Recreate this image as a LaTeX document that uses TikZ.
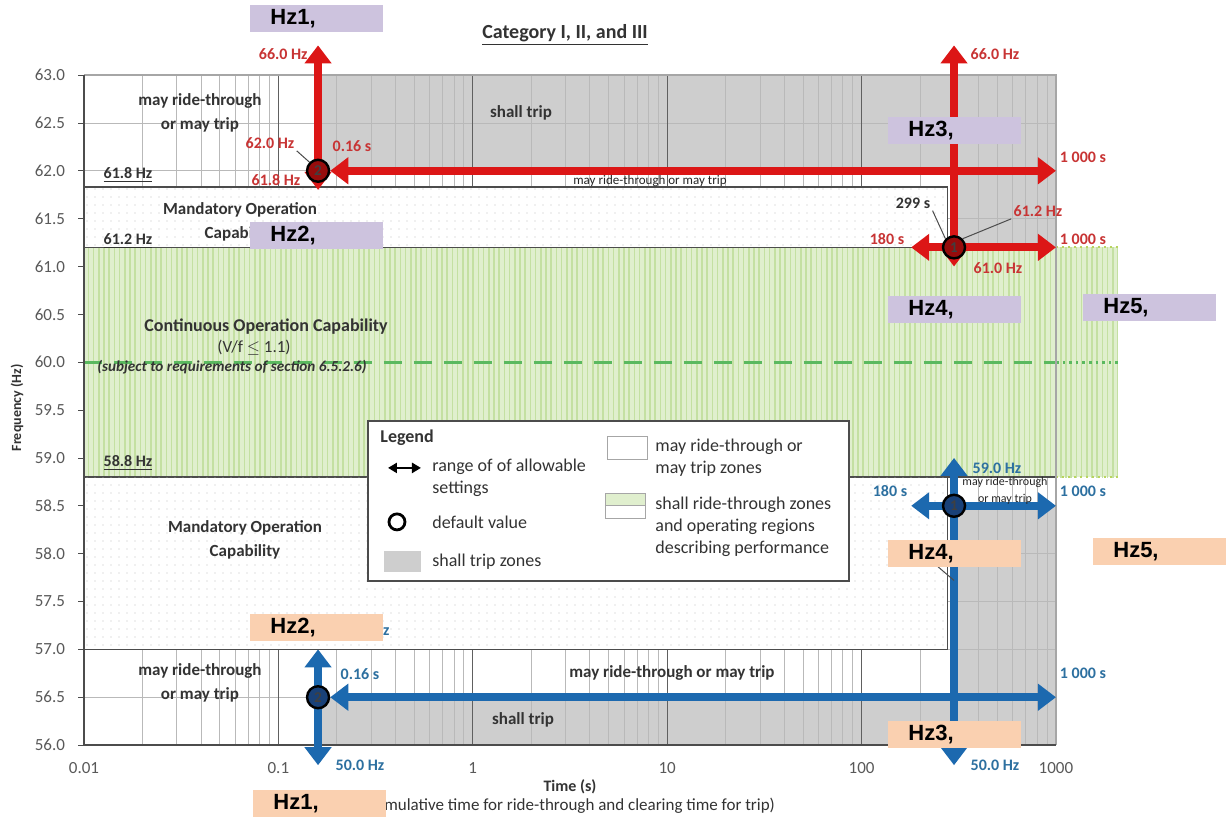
\documentclass[tikz,border=0pt]{standalone}
\usepackage{fontspec}
\setmainfont{Carlito}
\newfontfamily\hzfont{Liberation Sans}
\usepackage{tikz}
\usetikzlibrary{positioning,calc,arrows.meta,patterns.meta}
\definecolor{tripgray}{RGB}{206,206,206}
\definecolor{greenfill}{RGB}{224,239,206}
\definecolor{greenline}{RGB}{196,224,162}
\definecolor{dashgreen}{RGB}{90,185,95}
\definecolor{edgegreen}{RGB}{185,212,95}
\definecolor{redarrow}{RGB}{220,22,22}
\definecolor{redcirc}{RGB}{150,12,12}
\definecolor{redtxt}{RGB}{200,52,52}
\definecolor{bluearrow}{RGB}{28,105,175}
\definecolor{bluecirc}{RGB}{25,65,120}
\definecolor{bluetxt}{RGB}{45,112,160}
\definecolor{hzpurple}{RGB}{205,195,222}
\definecolor{hzpeach}{RGB}{250,208,176}

\begin{document}
\begin{tikzpicture}[x=97.2pt,y=47.86pt,
minor/.style={gray!55,line width=0.4pt},
major/.style={gray!75!black,line width=0.6pt},
zone/.style={font=\fontsize{8.5}{12}\selectfont\bfseries,align=center,text=black!80},
level/.style={font=\fontsize{8}{9}\selectfont\bfseries,text=black!80},
tick/.style={font=\fontsize{8.5}{9}\selectfont,text=gray!70!black},
redlbl/.style={font=\fontsize{8}{9}\selectfont\bfseries,text=redtxt,inner sep=1pt},
bluelbl/.style={font=\fontsize{8}{9}\selectfont\bfseries,text=bluetxt,inner sep=1pt},
leg/.style={font=\fontsize{9}{11}\selectfont,align=left,text=black!80,inner sep=0pt},
redarr/.style={draw=redarrow,line width=4pt,{Triangle[length=9pt,width=13pt]}-{Triangle[length=9pt,width=13pt]}},
bluearr/.style={draw=bluearrow,line width=4pt,{Triangle[length=9pt,width=13pt]}-{Triangle[length=9pt,width=13pt]}},
setpt/.style={circle,minimum size=11pt,inner sep=0pt,draw=black,line width=1.2pt,font=\fontsize{7.5}{8}\selectfont\bfseries,text=black!75},
leader/.style={draw=black!70,line width=0.5pt},
mandbox/.style={fill=white,postaction={pattern color=gray!50,pattern={Dots[radius=0.35pt,distance=4pt]}},draw=gray!60!black,line width=0.6pt},
hzbox/.style={anchor=north west,minimum width=66.5pt,minimum height=13.5pt,inner xsep=10pt,inner ysep=0pt,text width=46.5pt,align=left,font=\hzfont\fontsize{11}{12}\selectfont\bfseries}]

% page
\path[use as bounding box,fill=white] (-2.432,55.216) rectangle (3.885,63.785);

% shall trip zones
\fill[tripgray] (-0.7959,62) rectangle (3,63);
\fill[tripgray] (2.4757,61.2) rectangle (3,62);
\fill[tripgray] (-0.7959,56) rectangle (3,56.5);
\fill[tripgray] (2.4757,56.5) rectangle (3,58.5);

% grid
\foreach \f in {56.5,57.0,57.5,58.0,58.5,59.0,59.5,60.0,60.5,61.0,61.5,62.0,62.5}
  \draw[minor] (-2,\f) -- (3,\f);
\foreach \d in {-2,...,2} {
  \draw[major] (\d,56) -- (\d,63);
  \foreach \k in {2,...,9}
    \draw[minor] ({\d+log10(\k)},56) -- ({\d+log10(\k)},63);
}

% continuous operation
\fill[greenfill] (-2,58.8) rectangle (3.319,61.2);
\path[pattern color=greenline,pattern={Lines[angle=90,distance=2.6pt,line width=0.8pt]}] (-2,58.8) rectangle (3.319,61.2);
\draw[gray!60!black,line width=0.6pt] (-2,61.2) -- (3,61.2);
\draw[gray!60!black,line width=0.6pt] (-2,58.8) -- (3,58.8);
\draw[edgegreen,dotted,line width=1pt] (3,61.2) -- (3.319,61.2);
\draw[edgegreen,dotted,line width=1pt] (3,58.8) -- (3.319,58.8);
\draw[dashgreen,line width=1.7pt,dash pattern=on 9pt off 6pt] (-2,60) -- (3,60);
\draw[dashgreen,dotted,line width=1.3pt] (3,60) -- (3.319,60);

% mandatory operation
\draw[mandbox] (-2,61.2) rectangle (2.44,61.83);
\draw[mandbox] (-2,57) rectangle (2.44,58.8);

% frame and axes
\draw[gray!70,line width=0.8pt] (-2,63) -- (3,63) -- (3,56);
\draw[gray!60!black,line width=0.8pt] (-2,63) -- (-2,56) -- (3,56);
\foreach \f in {56.0,56.5,57.0,57.5,58.0,58.5,59.0,59.5,60.0,60.5,61.0,61.5,62.0,62.5,63.0}
  \draw[gray!60!black] (-2,\f) -- ++(-3pt,0) node[tick,left=3pt] {\f};
\foreach \d/\t in {-2/0.01,-1/0.1,0/1,1/10,2/100,3/1000}
  \node[tick,yshift=-11.5pt] at (\d,56) {\t};

% red settings
\coordinate (r2lo) at (-0.7959,61.8);
\coordinate (r2hi) at (-0.7959,63.31);
\coordinate (r2end) at (3,62);
\coordinate (r1lo) at (2.4757,61.0);
\coordinate (r1hi) at (2.4757,63.31);
\coordinate (r1beg) at (2.2553,61.2);
\coordinate (r1end) at (3,61.2);
\draw[redarr] (r2lo) -- (r2hi);
\node[setpt,fill=redcirc] (r2) at (-0.7959,62) {2};
\draw[redarr] (r2.east) -- (r2end);
\draw[redarr] (r1lo) -- (r1hi);
\draw[redarr] (r1beg) -- (r1end);
\node[setpt,fill=redcirc] (r1) at (2.4757,61.2) {1};

% blue settings
\coordinate (b2hi) at (-0.7959,57.0);
\coordinate (b2lo) at (-0.7959,55.79);
\coordinate (b2end) at (3,56.5);
\coordinate (b1hi) at (2.4757,59.0);
\coordinate (b1lo) at (2.4757,55.79);
\coordinate (b1beg) at (2.2553,58.5);
\coordinate (b1end) at (3,58.5);
\coordinate (b1tag) at (2.4757,57.72);
\draw[bluearr] (b2hi) -- (b2lo);
\node[setpt,fill=bluecirc] (b2) at (-0.7959,56.5) {2};
\draw[bluearr] (b2.east) -- (b2end);
\draw[bluearr] (b1hi) -- (b1lo);
\draw[bluearr] (b1beg) -- (b1end);
\node[setpt,fill=bluecirc] (b1) at (2.4757,58.5) {1};

\begin{scope}[shift={(-2.432,63.785)},x=0.5pt,y=-0.5pt]
% title and axis titles
\node[font=\fontsize{10}{12}\selectfont\bfseries,text=black!80] (title) at (565,35) {\underline{Category I, II, and III}};
\node[font=\fontsize{8}{9}\selectfont\bfseries,text=black!80] (xtitle) at (570,787) {Time (s)};
\node[font=\fontsize{8.5}{9}\selectfont,text=black!80] (xnote) at (569,806) {(cumulative time for ride-through and clearing time for trip)};
\node[font=\fontsize{7}{8}\selectfont\bfseries,text=black!80,rotate=90] (ytitle) at (17,408) {Frequency (Hz)};

% zone labels
\node[zone] (hiride) at (200,113) {may ride-through\\or may trip};
\node[zone] (hitrip) at (521,113) {shall trip};
\node[font=\fontsize{6.5}{7}\selectfont,text=black!85] (histrip) at (650,181) {may ride-through or may trip};
\node[zone] (himand) at (240,222) {Mandatory Operation\\Capability};
\node[zone,font=\fontsize{9}{10}\selectfont\bfseries] (cont) at (266,327) {Continuous Operation Capability};
\node[font=\fontsize{8.5}{9}\selectfont,text=black!80] (vf) at (254,348) {(V/f \ensuremath{\leq} 1.1)};
\node[zone,font=\fontsize{7.6}{9}\selectfont\bfseries\itshape] (subj) at (232,367) {(subject to requirements of section 6.5.2.6)};
\node[zone] (lomand) at (245,540) {Mandatory Operation\\Capability};
\node[zone] (loride) at (200,683) {may ride-through\\or may trip};
\node[zone] (lomid) at (672,673) {may ride-through or may trip};
\node[zone] (lotrip) at (523,720) {shall trip};
\node[level] (f618) at (128,175) {\underline{61.8 Hz}};
\node[level] (f612) at (128,241) {\underline{61.2 Hz}};
\node[level] (f588) at (128,463) {\underline{58.8 Hz}};

% red labels
\node[redlbl,anchor=east] (r2top) at (310,54) {66.0 Hz};
\node[redlbl] (l620) at (270,143) {62.0 Hz};
\node[redlbl] (r2t) at (352,146) {0.16 s};
\node[redlbl] (r2bot) at (276,180) {61.8 Hz};
\node[redlbl] (r2max) at (1083,157) {1 000 s};
\node[redlbl] (r1top) at (995,54) {66.0 Hz};
\node[level,font=\fontsize{8}{9}\selectfont\bfseries,inner sep=1pt] (l299) at (913,203) {299 s};
\node[redlbl] (l612) at (1038,211) {61.2 Hz};
\node[redlbl] (r1min) at (887,239) {180 s};
\node[redlbl] (r1max) at (1083,239) {1 000 s};
\node[redlbl] (r1bot) at (998,268) {61.0 Hz};
\draw[leader] (l620.south east) -- (r2.north west);
\draw[leader] (l299.south east) -- (r1.north west);
\draw[leader] (l612.south west) -- (r1.north east);

% blue labels
\node[bluelbl,anchor=east] (b2top) at (392,630) {57.0 Hz};
\node[bluelbl] (b2t) at (360,674) {0.16 s};
\node[bluelbl] (b2bot) at (360,765) {50.0 Hz};
\node[bluelbl] (b2max) at (1083,673) {1 000 s};
\node[bluelbl] (b1top) at (997,468) {59.0 Hz};
\node[font=\fontsize{6}{8.5}\selectfont,align=center,text=black!85] (b1ride) at (1005,491) {may ride-through\\or may trip};
\node[bluelbl] (b1min) at (890,491) {180 s};
\node[bluelbl] (b1max) at (1083,491) {1 000 s};
\node[bluelbl] (b1bot) at (995,765) {50.0 Hz};
\coordinate (lb299) at (930,560);
\draw[leader] (lb299) -- (b1tag);

% legend
\node[draw=gray!60!black,fill=white,line width=0.8pt,minimum width=240.5pt,minimum height=80pt,inner sep=0pt,anchor=north west] (legend) at (367,420) {};
\node[leg,font=\fontsize{9}{11}\selectfont\bfseries,anchor=west] (legtitle) at (380,438) {Legend};
\coordinate (rngL) at (388,468);
\coordinate (rngR) at (421,468);
\draw[black,line width=1.2pt,{Triangle[length=4.5pt,width=5pt]}-{Triangle[length=4.5pt,width=5pt]}] (rngL) -- (rngR);
\node[leg,anchor=north west] (legrng) at (432,459) {range of of allowable\\settings};
\node[circle,draw=black,line width=1.4pt,minimum size=8pt,inner sep=0pt] (legdef) at (397,522) {};
\node[leg,anchor=west] (legdeft) at (432,522) {default value};
\node[fill=tripgray,minimum width=18.5pt,minimum height=10.5pt,inner sep=0pt] (legtrip) at (403,562) {};
\node[leg,anchor=west] (legtript) at (432,562) {shall trip zones};
\node[draw=gray!70,minimum width=20pt,minimum height=11.5pt,inner sep=0pt] (legmay) at (627,448) {};
\node[leg,anchor=north west] (legmayt) at (655,439) {may ride-through or\\may trip zones};
\fill[greenfill] (605,493) rectangle (645,505);
\draw[gray!70] (605,493) rectangle (645,518) (605,505) -- (645,505);
\node[leg,anchor=north west] (legshall) at (655,497) {shall ride-through zones\\and operating regions\\describing performance};

% redacted values
\node[hzbox,fill=hzpurple] (p1) at (250,5) {Hz1,};
\node[hzbox,fill=hzpurple] (p2) at (250,222) {Hz2,};
\node[hzbox,fill=hzpurple] (p3) at (888,117) {Hz3,};
\node[hzbox,fill=hzpurple] (p4) at (888,296) {Hz4,};
\node[hzbox,fill=hzpurple] (p5) at (1083,294) {Hz5,};
\node[hzbox,fill=hzpeach] (q2) at (250,614) {Hz2,};
\node[hzbox,fill=hzpeach] (q1) at (253,790) {Hz1,};
\node[hzbox,fill=hzpeach] (q4) at (888,540) {Hz4,};
\node[hzbox,fill=hzpeach] (q5) at (1093,538) {Hz5,};
\node[hzbox,fill=hzpeach] (q3) at (888,721) {Hz3,};
\end{scope}
\end{tikzpicture}
\end{document}
